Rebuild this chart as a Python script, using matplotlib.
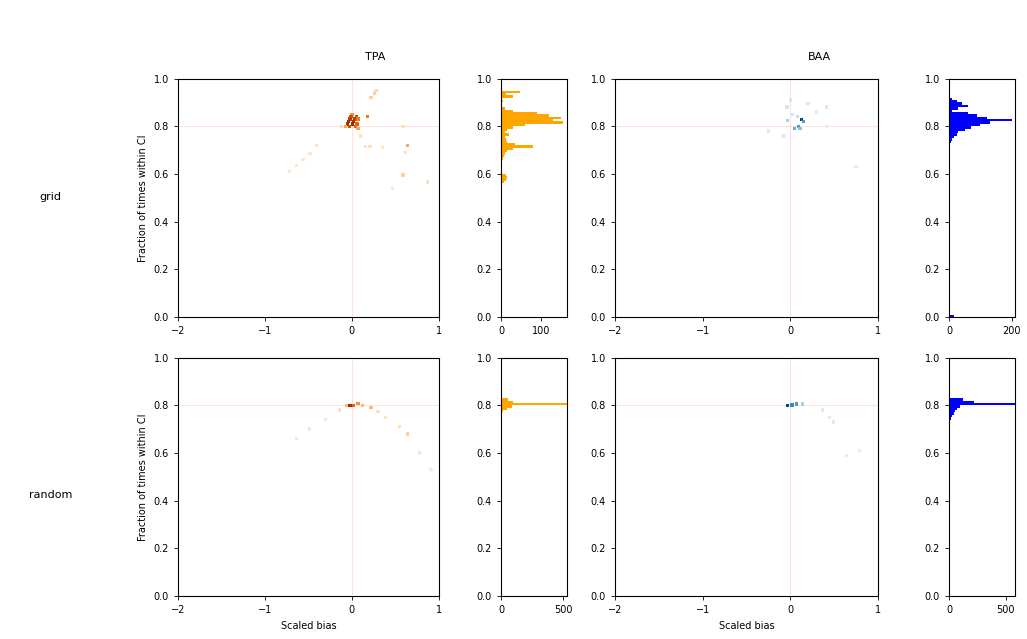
import matplotlib
matplotlib.use("Agg")
import matplotlib.pyplot as plt
import numpy as np

# ---------------- data ----------------
rows = ["grid", "random"]
methods = ["TPA", "BAA"]

# scatter / density points: x (scaled bias), y (fraction within CI), weight
tpa_grid_x = [-0.05, -0.02, 0.02, 0.05, -0.03, 0.0, 0.04, -0.07, 0.07, -0.04, 0.01, 0.03, -0.01, 0.06,
              0.18, 0.22, 0.26, 0.28, 0.07,
              0.16, 0.21, 0.59, 0.64, 0.62, 0.59, 0.87, 0.47, -0.72, -0.64, -0.56, -0.48, -0.41, -0.12, 0.1, 0.35]
tpa_grid_y = [0.81, 0.83, 0.82, 0.84, 0.80, 0.85, 0.80, 0.80, 0.83, 0.82, 0.81, 0.83, 0.84, 0.81,
              0.84, 0.92, 0.94, 0.95, 0.79,
              0.714, 0.714, 0.80, 0.72, 0.69, 0.595, 0.567, 0.54, 0.61, 0.635, 0.66, 0.685, 0.72, 0.80, 0.76, 0.71]
tpa_grid_w = [10, 9, 10, 8, 8, 5, 7, 4, 6, 10, 10, 9, 8, 7,
              6, 2, 2, 1.5, 4,
              1, 1, 1, 4, 1, 2, 1, 0.5, 0.5, 0.5, 0.5, 0.5, 1, 1.5, 1, 0.5]

baa_grid_x = [0.13, 0.15, 0.05, 0.09, 0.11, -0.03, 0.0, -0.04, 0.2, 0.41, 0.41, -0.25, -0.08, 0.75, 0.08, 0.3, 0.02]
baa_grid_y = [0.828, 0.82, 0.79, 0.80, 0.79, 0.825, 0.91, 0.88, 0.895, 0.88, 0.80, 0.78, 0.76, 0.63, 0.84, 0.86, 0.85]
baa_grid_w = [10, 6, 5, 6, 4, 3, 1, 1, 1, 1, 0.5, 0.5, 1, 0.3, 2, 0.5, 1]

tpa_rand_x = [-0.02, 0.02, 0.07, 0.12, 0.22, 0.30, 0.39, 0.55, 0.64, 0.78, 0.91, -0.14, -0.30, -0.49, -0.64, -0.06]
tpa_rand_y = [0.80, 0.80, 0.807, 0.80, 0.79, 0.775, 0.75, 0.71, 0.68, 0.60, 0.53, 0.78, 0.74, 0.70, 0.66, 0.80]
tpa_rand_w = [10, 7, 5, 3, 3, 1, 1, 1, 2, 0.5, 0.5, 1, 0.5, 0.5, 0.5, 3]

baa_rand_x = [-0.03, 0.02, 0.07, 0.14, 0.37, 0.45, 0.49, 0.79, 0.64]
baa_rand_y = [0.80, 0.802, 0.806, 0.806, 0.78, 0.75, 0.73, 0.61, 0.59]
baa_rand_w = [10, 7, 6, 3, 0.5, 0.5, 0.5, 0.3, 0.3]

# histogram counts (bin centres, counts), bin width 0.01
tpa_grid_bins = [0.945, 0.935, 0.925, 0.905, 0.875, 0.865, 0.855, 0.845, 0.835, 0.825, 0.815, 0.805, 0.795,
                 0.785, 0.775, 0.765, 0.755, 0.745, 0.735, 0.725, 0.715, 0.705, 0.695, 0.685, 0.675, 0.665,
                 0.655, 0.605, 0.595, 0.585, 0.575, 0.565, 0.555]
tpa_grid_cnt = [48, 12, 30, 5, 10, 30, 90, 120, 150, 130, 155, 60, 30,
                15, 10, 20, 10, 12, 15, 35, 80, 30, 15, 10, 8, 5,
                3, 3, 12, 15, 12, 8, 3]

baa_grid_bins = [0.915, 0.905, 0.895, 0.885, 0.875, 0.865, 0.855, 0.845, 0.835, 0.825, 0.815, 0.805, 0.795,
                 0.785, 0.775, 0.765, 0.755, 0.745, 0.735, 0.725, 0.605, 0.005]
baa_grid_cnt = [10, 25, 40, 60, 30, 10, 60, 90, 120, 200, 130, 100, 70,
                50, 30, 25, 15, 10, 5, 3, 2, 15]

tpa_rand_bins = [0.825, 0.815, 0.805, 0.795, 0.785, 0.775, 0.765, 0.755, 0.745, 0.735, 0.725, 0.705,
                 0.695, 0.685, 0.675, 0.665]
tpa_rand_cnt = [60, 100, 540, 90, 50, 15, 10, 8, 5, 5, 3, 10, 12, 10, 8, 5]

baa_rand_bins = [0.825, 0.815, 0.805, 0.795, 0.785, 0.775, 0.765, 0.755, 0.745, 0.735, 0.725]
baa_rand_cnt = [120, 220, 600, 100, 70, 50, 40, 30, 15, 10, 5]

# ---------------- figure ----------------
plt.rcParams['font.family'] = ['DejaVu Sans']
fig = plt.figure(figsize=(10.27, 6.39), dpi=100)

row_bottoms = [0.504, 0.0673]
row_h = 0.373
sc_left = {"TPA": 0.1733, "BAA": 0.5988}
sc_w = {"TPA": 0.254, "BAA": 0.2561}
hist_left = {"TPA": 0.4878, "BAA": 0.924}
hist_w = 0.0643

scatter_data = {
    ("grid", "TPA"): (tpa_grid_x, tpa_grid_y, tpa_grid_w),
    ("grid", "BAA"): (baa_grid_x, baa_grid_y, baa_grid_w),
    ("random", "TPA"): (tpa_rand_x, tpa_rand_y, tpa_rand_w),
    ("random", "BAA"): (baa_rand_x, baa_rand_y, baa_rand_w),
}
hist_data = {
    ("grid", "TPA"): (tpa_grid_bins, tpa_grid_cnt, 165, [0, 100]),
    ("grid", "BAA"): (baa_grid_bins, baa_grid_cnt, 210, [0, 200]),
    ("random", "TPA"): (tpa_rand_bins, tpa_rand_cnt, 530, [0, 500]),
    ("random", "BAA"): (baa_rand_bins, baa_rand_cnt, 580, [0, 500]),
}
cmaps = {"TPA": "Oranges", "BAA": "Blues"}
hcolors = {"TPA": "orange", "BAA": "blue"}

fs = 7
for ri, row in enumerate(rows):
    for m in methods:
        ax = fig.add_axes([sc_left[m], row_bottoms[ri], sc_w[m], row_h])
        x, y, w = scatter_data[(row, m)]
        ax.axhline(0.8, color="red", alpha=0.12, lw=0.8, zorder=1)
        ax.axvline(0.0, color="red", alpha=0.12, lw=0.8, zorder=1)
        ax.scatter(x, y, c=w, cmap=cmaps[m], vmin=-1, vmax=11, marker="s", s=6,
                   linewidths=0, zorder=2)
        ax.set_xlim(-2, 1)
        ax.set_ylim(0, 1)
        ax.set_xticks([-2, -1, 0, 1])
        ax.set_yticks([0, 0.2, 0.4, 0.6, 0.8, 1.0])
        ax.tick_params(labelsize=fs, length=3, width=0.6)
        for s in ax.spines.values():
            s.set_linewidth(0.8)
        if m == "TPA":
            ax.set_ylabel("Fraction of times within CI", fontsize=fs)
        if row == "random":
            ax.set_xlabel("Scaled bias", fontsize=fs)

        hax = fig.add_axes([hist_left[m], row_bottoms[ri], hist_w, row_h])
        b, c, xmax, xt = hist_data[(row, m)]
        hax.barh(b, c, height=0.01, color=hcolors[m], linewidth=0)
        hax.set_xlim(0, xmax)
        hax.set_ylim(0, 1)
        hax.set_xticks(xt)
        hax.set_yticks([0, 0.2, 0.4, 0.6, 0.8, 1.0])
        hax.tick_params(labelsize=fs, length=3, width=0.6)
        for s in hax.spines.values():
            s.set_linewidth(0.8)

fig.text(0.365, 0.911, "TPA", ha="center", va="center", fontsize=8)
fig.text(0.798, 0.911, "BAA", ha="center", va="center", fontsize=8)
fig.text(0.049, 0.692, "grid", ha="center", va="center", fontsize=8)
fig.text(0.049, 0.225, "random", ha="center", va="center", fontsize=8)

fig.savefig("out.png", dpi=100)
